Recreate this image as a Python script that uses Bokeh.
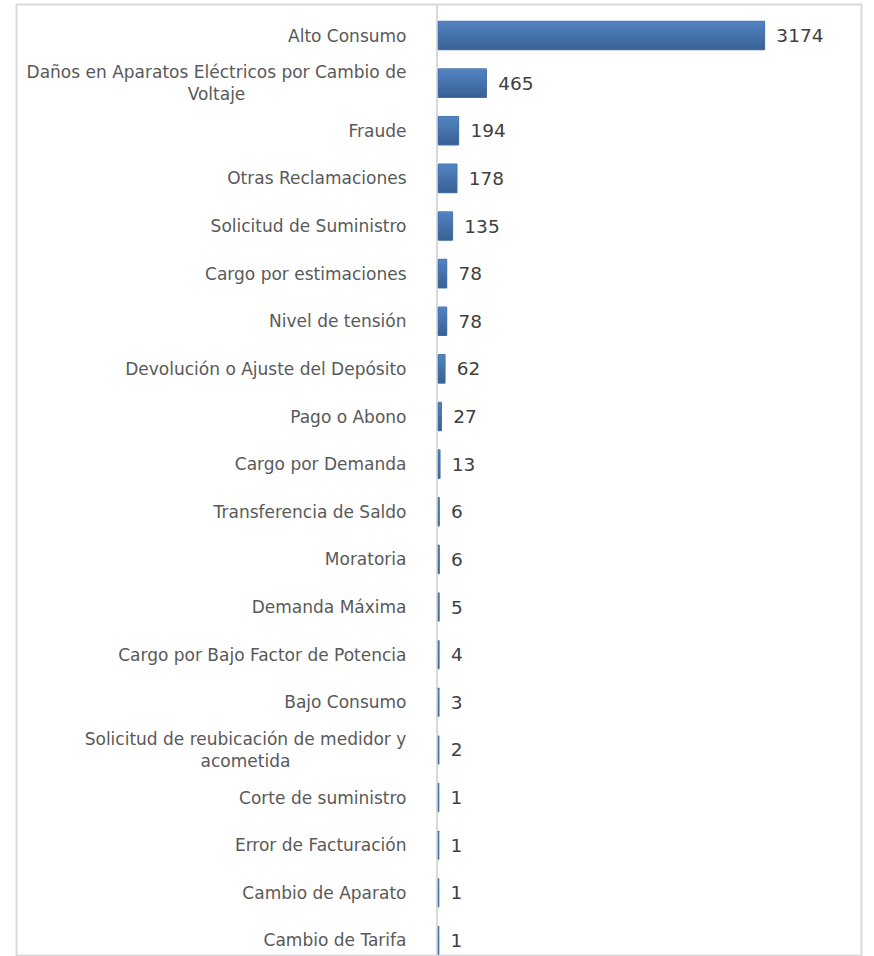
import numpy as np
from bokeh.plotting import figure
from bokeh.models import Range1d, Span, ColumnDataSource
from bokeh.core.properties import value
from bokeh.embed import file_html
from bokeh.resources import INLINE

categories = ["Alto Consumo",
              "Daños en Aparatos Eléctricos por Cambio de\nVoltaje",
              "Fraude", "Otras Reclamaciones", "Solicitud de Suministro",
              "Cargo por estimaciones", "Nivel de tensión",
              "Devolución o Ajuste del Depósito", "Pago o Abono",
              "Cargo por Demanda", "Transferencia de Saldo", "Moratoria",
              "Demanda Máxima", "Cargo por Bajo Factor de Potencia",
              "Bajo Consumo",
              "Solicitud de reubicación de medidor y\nacometida",
              "Corte de suministro", "Error de Facturación",
              "Cambio de Aparato", "Cambio de Tarifa"]
values = [3174, 465, 194, 178, 135, 78, 78, 62, 27, 13, 6, 6, 5, 4, 3, 2, 1, 1, 1, 1]

FONT = "DejaVu Sans"
n = len(categories)
ypos = np.arange(n)

p = figure(width=874, height=956, output_backend="svg", toolbar_location=None,
           x_range=Range1d(-4110, 4120), y_range=Range1d(19.337, -0.651),
           min_border_left=16, min_border_right=13, min_border_top=4, min_border_bottom=0)
p.axis.visible = False
p.grid.visible = False
p.outline_line_color = "#d9d9d9"
p.outline_line_width = 2
p.background_fill_color = "white"
p.border_fill_color = "white"

p.add_layout(Span(location=-14, dimension="height", line_color="#d9d9d9",
                  line_width=2, level="underlay"))

h = 0.59
base = ColumnDataSource(dict(y=ypos, v=values))
p.hbar(y="y", left=0, right="v", height=h, source=base,
       fill_color="#4775AE", line_color="#4775AE", line_width=1.5)

nst = 12
c0 = np.array([0x52, 0x83, 0xC2])
c1 = np.array([0x3A, 0x62, 0x96])
for k in range(nst):
    t = k / (nst - 1)
    c = (c0 * (1 - t) + c1 * t).astype(int)
    col = "#%02x%02x%02x" % tuple(c)
    p.hbar(y=ypos - h / 2 + (k + 0.5) * h / nst, left=0, right=values,
           height=h / nst * 1.05, fill_color=col, line_color=None)

p.text(x=values, y=ypos, text=[str(v) for v in values], x_offset=12,
       text_align="left", text_baseline="middle", text_font=value(FONT),
       text_font_size="18.5px", text_color="#404040")

multi = ["\n" in c for c in categories]
aligns = ["center" if m else "right" for m in multi]
centers = {1: -222, 15: -193}
offs = [centers.get(i, -32) for i in range(n)]
p.text(x=[0] * n, y=ypos, text=categories, x_offset=offs, text_align=aligns,
       text_baseline="middle", text_font=value(FONT), text_font_size="17px",
       text_color="#595959", text_line_height=1.12)

open("out.html", "w").write(file_html(p, INLINE))
